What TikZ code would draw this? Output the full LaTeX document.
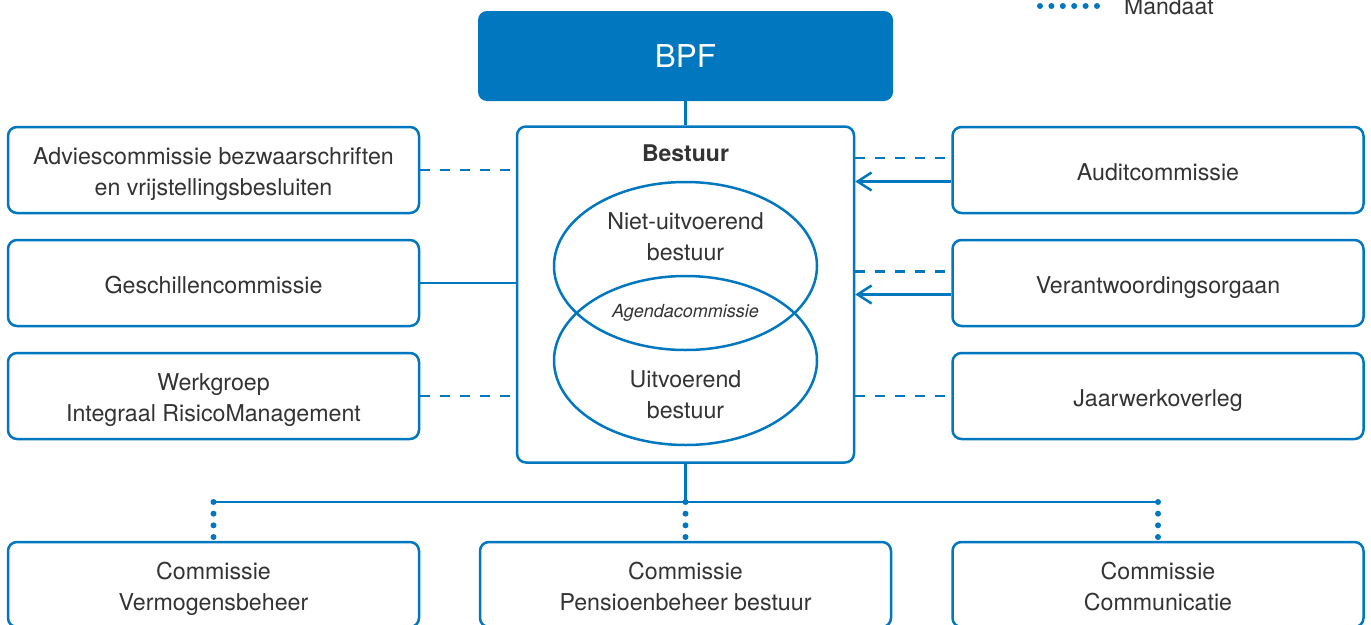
\documentclass[tikz,border=0pt]{standalone}
\usepackage{fontspec}
\setmainfont{TeX Gyre Heros}
\usetikzlibrary{arrows.meta,shapes.geometric}
\definecolor{bpfblue}{HTML}{0077BE}
\definecolor{txt}{HTML}{333333}
\newcommand{\bstrut}{\rule[-5.5pt]{0pt}{31pt}}
\begin{document}
\begin{tikzpicture}[x=1pt,y=-1pt,
  box/.style={draw=bpfblue, line width=2.5pt, rounded corners=9pt,
    minimum width=411pt, minimum height=86pt, inner sep=0pt, align=center,
    text=txt, font=\fontsize{23.2}{31}\selectfont},
  txtnode/.style={inner sep=0pt, align=center, text=txt, font=\fontsize{23.2}{31}\selectfont},
  conn/.style={draw=bpfblue, line width=2.5pt},
  dashline/.style={conn, dash pattern=on 10pt off 10pt},
  dotline/.style={draw=bpfblue, line width=6pt, line cap=round, dash pattern=on 0pt off 11.67pt},
  venn/.style={ellipse, draw=bpfblue, line width=2.5pt, minimum width=263pt, inner sep=0pt},
  arr/.style={conn, -{Straight Barb[length=14pt,width=18pt,line width=2.5pt]}}
]
\useasboundingbox (0,0) rectangle (1371,624);

% legend
\coordinate (l1) at (1040,6);
\coordinate (l2) at (1100,6);
\draw[dotline, dash pattern=on 0pt off 11.4pt] (l1) -- (l2);
\node[anchor=base west, inner sep=0pt, text=txt, font=\fontsize{23}{26}\selectfont] (leg) at (1124,14) {Mandaat};

% BPF
\node[fill=bpfblue, rounded corners=9pt, minimum width=415pt, minimum height=90pt,
  inner sep=0pt, text=white, font=\fontsize{31.5}{36}\selectfont] (bpf) at (685.5,56) {BPF};

% Bestuur
\node[draw=bpfblue, line width=2.5pt, rounded corners=9pt, minimum width=337pt,
  minimum height=336pt, inner sep=0pt] (bestuur) at (685.5,294.5) {};
\node[txtnode, font=\fontsize{23}{26}\selectfont\bfseries] (btitle) at (685.5,153) {Bestuur};
\node[venn, minimum height=168pt] (e1) at (685.5,266) {};
\node[venn, minimum height=169pt] (e2) at (685.5,360.5) {};
\node[txtnode] (t1) at (685.5,237) {Niet-uitvoerend\\bestuur};
\node[txtnode, font=\fontsize{18}{21}\selectfont\itshape] (t2) at (685.5,313) {Agendacommissie};
\node[txtnode] (t3) at (685.5,395) {Uitvoerend\\bestuur};

% left boxes
\node[box] (adv) at (213.5,170) {\bstrut Adviescommissie bezwaarschriften\\\bstrut en vrijstellingsbesluiten};
\node[box] (gesch) at (213.5,283) {\bstrut Geschillencommissie};
\node[box] (werk) at (213.5,396) {\bstrut Werkgroep\\\bstrut Integraal RisicoManagement};

% right boxes
\node[box] (audit) at (1158,170) {\bstrut Auditcommissie};
\node[box] (verant) at (1158,283) {\bstrut Verantwoordingsorgaan};
\node[box] (jaar) at (1158,396) {\bstrut Jaarwerkoverleg};

% bottom boxes
\node[box, minimum height=85pt] (cvb) at (213.5,584.5) {\bstrut Commissie\\\bstrut Vermogensbeheer};
\node[box, minimum height=85pt] (cpb) at (685.5,584.5) {\bstrut Commissie\\\bstrut Pensioenbeheer bestuur};
\node[box, minimum height=85pt] (ccom) at (1158,584.5) {\bstrut Commissie\\\bstrut Communicatie};

% connectors
\draw[conn] (bpf.south) -- (bestuur.north);
\draw[dashline] (adv.east) -- (adv.east -| bestuur.west);
\draw[conn] (gesch.east) -- (gesch.east -| bestuur.west);
\draw[dashline] (werk.east) -- (werk.east -| bestuur.west);

\draw[dashline] ([yshift=12pt]audit.west -| bestuur.east) -- ([yshift=12pt]audit.west);
\draw[arr] ([yshift=-11.5pt]audit.west) -- ([yshift=-11.5pt]audit.west -| bestuur.east);
\draw[dashline] ([yshift=11.5pt]verant.west -| bestuur.east) -- ([yshift=11.5pt]verant.west);
\draw[arr] ([yshift=-11.5pt]verant.west) -- ([yshift=-11.5pt]verant.west -| bestuur.east);
\draw[dashline] (jaar.west -| bestuur.east) -- (jaar.west);

\coordinate (j) at (685.5,502);
\draw[conn] (bestuur.south) -- (j);
\draw[conn] (j -| cvb.north) -- (j -| ccom.north);
\draw[dotline] (j -| cvb.north) -- (cvb.north);
\draw[dotline] (j) -- (cpb.north);
\draw[dotline] (j -| ccom.north) -- (ccom.north);
\end{tikzpicture}
\end{document}
